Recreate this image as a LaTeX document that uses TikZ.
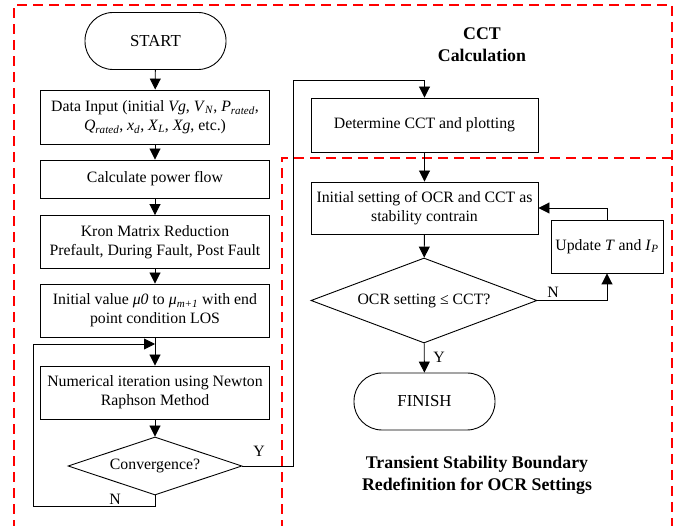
\documentclass[tikz,border=0pt]{standalone}
\usepackage{fontspec}
\setmainfont{Liberation Serif}
\usetikzlibrary{shapes.geometric,arrows.meta}
\begin{document}
\begin{tikzpicture}[x=1pt,y=-1pt,
  every node/.style={font=\fontsize{15.8}{19}\selectfont},
  box/.style={draw,line width=0.9pt,minimum width=229pt,minimum height=53pt,align=center,inner sep=2pt},
  term/.style={draw,line width=0.9pt,minimum width=141pt,minimum height=57pt,rounded corners=28pt,font=\fontsize{16.8}{19}\selectfont},
  dec/.style={draw,line width=0.9pt,diamond,inner sep=0pt},
  conn/.style={line width=0.9pt},
  arr/.style={conn,-{Triangle[length=11pt,width=11pt]}},
  region/.style={red,line width=1.1pt,dash pattern=on 10pt off 6pt},
  lab/.style={font=\fontsize{15.8}{19}\selectfont},
  ttl/.style={font=\fontsize{17.8}{22}\selectfont\bfseries,align=center}]
\useasboundingbox (0,0) rectangle (681,526);
% regions
\draw[region] (14,530) -- (14,5) -- (672,5) -- (672,530);
\draw[region] (282,530) -- (282,158) -- (672,158);
% left column
\node[term] (start) at (155.5,41) {START};
\node[box,minimum height=54pt] (data) at (155,117) {Data Input (initial \textit{Vg}, \textit{V}\textsubscript{\textit{N}}, \textit{P}\textsubscript{\textit{rated}},\\\textit{Q}\textsubscript{\textit{rated}}, \textit{x}\textsubscript{\textit{d}}, \textit{X}\textsubscript{\textit{L}}, \textit{Xg}, etc.)};
\node[box,minimum height=38pt] (pf) at (155,179) {Calculate power flow};
\node[box] (kron) at (155,242) {Kron Matrix Reduction\\Prefault, During Fault, Post Fault};
\node[box] (init) at (155,310.5) {Initial value \textit{μ0} to \textit{μ}\textsubscript{\textit{m+1}} with end\\point condition LOS};
\node[box] (num) at (155,392.5) {Numerical iteration using Newton\\Raphson Method};
\node[dec,minimum width=174pt,minimum height=58pt,aspect=3] (conv) at (155,466) {Convergence?};
\coordinate (j) at (155,344);
\coordinate (nl) at (33,506);
\coordinate (yr) at (293,80);
% right part
\node[ttl] (t1) at (482,45) {CCT\\Calculation};
\node[box,minimum width=227pt,minimum height=54pt] (det) at (424.5,125) {Determine CCT and plotting};
\node[box,minimum width=227pt,minimum height=52pt] (ini) at (424.5,208) {Initial setting of OCR and CCT as\\stability contrain};
\node[box,minimum width=112pt,minimum height=53pt] (upd) at (607,246.5) {Update \textit{T} and \textit{I}\textsubscript{\textit{P}}};
\node[dec,minimum width=226pt,minimum height=85pt,aspect=2.66] (ocr) at (424,300.5) {OCR setting ≤ CCT?};
\node[term] (fin) at (424.5,401.5) {FINISH};
\node[ttl] (t2) at (477,475) {Transient Stability Boundary\\Redefinition for OCR Settings};
% connectors
\draw[arr] (start) -- (data);
\draw[arr] (data) -- (pf);
\draw[arr] (pf) -- (kron);
\draw[arr] (kron) -- (init);
\draw[arr] (init) -- (num);
\draw[arr] (num) -- (conv);
\draw[arr] (conv.south) |- (nl) |- (j);
\draw[arr] (conv.east) -| (yr) -| (det.north);
\draw[arr] (det) -- (ini);
\draw[arr] (ini) -- (ocr);
\draw[arr] (ocr.east) -| (upd.south);
\draw[arr] (upd.north) |- (ini.east);
\draw[arr] (ocr) -- (fin);
% labels
\node[lab] (ly1) at (259,451) {Y};
\node[lab] (ln1) at (115,499) {N};
\node[lab] (ln2) at (553,292) {N};
\node[lab] (ly2) at (439,357) {Y};
\end{tikzpicture}
\end{document}
